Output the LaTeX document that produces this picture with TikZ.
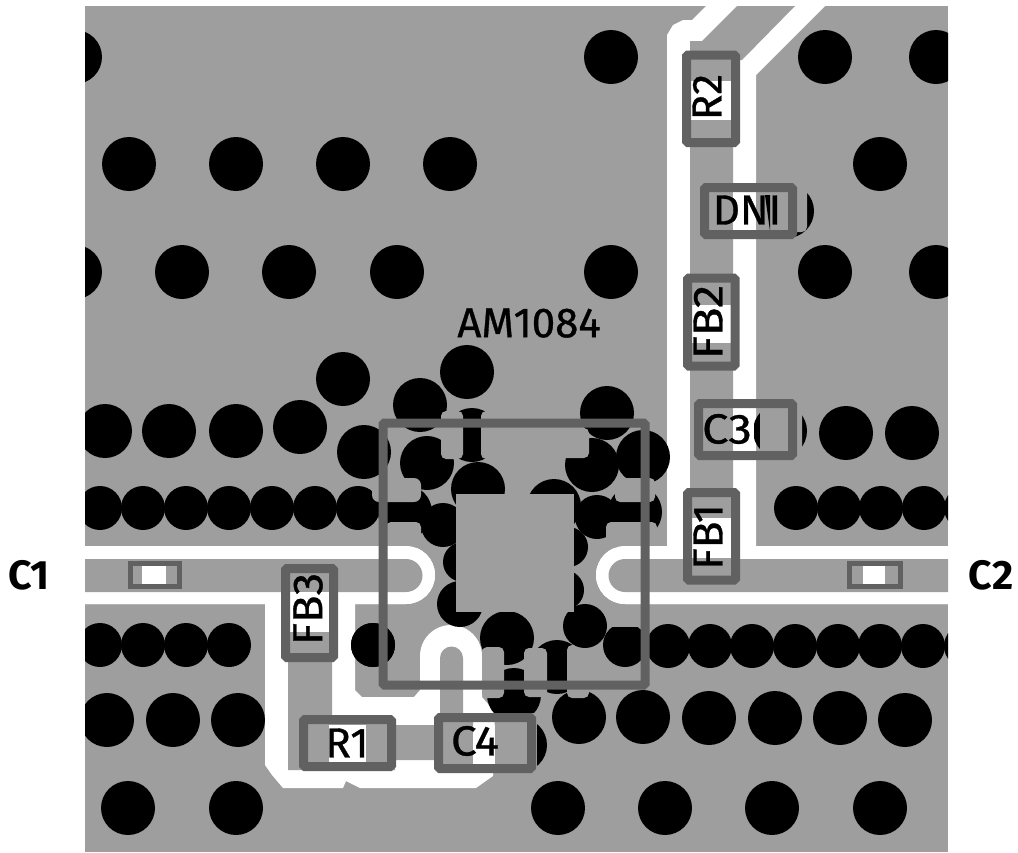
\documentclass[tikz,border=0pt]{standalone}
\usepackage{fontspec}
\setmainfont{Fira Sans}
\newfontfamily\lblreg{Fira Sans}[FakeBold=0.8]
\definecolor{pcb}{HTML}{9E9E9E}
\definecolor{frameC}{HTML}{616161}
\newcommand{\via}[3]{\fill[black] (#1,#2) circle (#3);}
\newcommand{\mask}[4]{\fill[pcb,rounded corners=5pt] (#1,#2) rectangle (#3,#4);}
\newcommand{\wgap}[4]{\fill[white] (#1,#2) rectangle (#3,#4);}
\newcommand{\pcbrect}[4]{\fill[pcb] (#1,#2) rectangle (#3,#4);}
\tikzset{
  compframe/.style={draw=frameC,line width=9pt,rounded corners=1.5pt},
  smallframe/.style={draw=frameC,line width=5pt},
  lbl/.style={inner sep=0pt,font=\lblreg\fontsize{42}{42}\selectfont,text=black},
  lblbold/.style={inner sep=0pt,font=\fontsize{41}{41}\selectfont\bfseries,text=black}
}
\begin{document}
\begin{tikzpicture}[x=1pt,y=-1pt]
\useasboundingbox (0,0) rectangle (1018,852);
\fill[white] (0,0) rectangle (1018,852);
\fill[pcb] (85,6) rectangle (948,852);
% clearance
\fill[white] (85,546) -- (406,546) arc[start angle=-90,end angle=90,radius=29] -- (85,604) -- cycle;
\fill[white] (948,546) -- (625,546) arc[start angle=-90,end angle=-270,radius=29] -- (948,604) -- cycle;
\fill[white] (667,548) -- (667,35) -- (673,25) -- (683,20) -- (692,20) -- (706,6) -- (825,6) -- (756,75) -- (756,548) -- cycle;
\fill[white] (265,600) -- (265,765) -- (272,775) -- (283,788) -- (343,788) -- (346,781) -- (352,784) -- (360,788) -- (476,788) -- (493,776) -- (495,712) -- (482,697) -- (482,656) arc[start angle=0,end angle=-180,radius=31] -- (420,690) -- (414,697) -- (362,697) -- (355,690) -- (355,600) -- cycle;
% vias, plain
\begin{scope}
\clip (85,6) rectangle (948,852);
\foreach \x/\y in {75/57,611/57,825/57,936/57,
  129/164,236/164,343/164,450/164,880/164,
  75/272,182/272,289/272,397/272,611/272,825/272,936/272,
  343/379,467/372,420/405,364/452,
  105/431,169/431,236/431,300/427,846/433,912/433,
  427/463,478/489,554/506,607/413,592/465,643/457,
  507/638,579/717,643/717,709/718,775/718,840/718,905/720,
  107/720,173/720,238/720,128/808,236/808,558/808,665/808,772/808,880/808,
  514/695,472/435,405/512,635/512,557/667,520/745,787/211,780/431}
  {\via{\x}{\y}{27}}
\foreach \x/\y in {100/508,143/508,186/508,229/508,272/508,315/508,358/508,
  796/508,839/508,881/508,924/508,966/508,
  100/645,143/645,186/645,229/645,373/645,
  625/645,668/646,710/646,752/646,795/646,838/646,880/646,923/646,966/646,
  443/525,597/517}
  {\via{\x}{\y}{22}}
\via{460}{604}{23}
\via{463}{562}{20}
\via{568}{547}{20}
\via{564}{590}{20}
\end{scope}
% thermal cut-outs
\mask{441}{411}{463}{459}
\mask{481}{411}{503}{459}
\fill[pcb,rounded corners=7pt] (372,478) rectangle (421,502);
\mask{386}{522}{421}{548}
\mask{615}{478}{655}{502}
\mask{606}{522}{657}{548}
\mask{555}{428}{589}{458}
\mask{482}{647}{504}{698}
\mask{524}{648}{547}{697}
\mask{567}{645}{589}{698}
\via{585}{626}{22}
\pcbrect{608}{616}{646}{627}
% IC pad
\pcbrect{456}{494}{574}{612}
% white redraw of the loops' edge over thermal relief
\fill[white] (85,546) -- (406,546) arc[start angle=-90,end angle=90,radius=29] -- (85,604) -- cycle;
\fill[white] (948,546) -- (625,546) arc[start angle=-90,end angle=-270,radius=29] -- (948,604) -- cycle;
\via{373}{645}{22}
% horizontal trace with loops
\fill[pcb] (85,559) -- (406,559) arc[start angle=-90,end angle=90,radius=16.5] -- (85,592) -- cycle;
\fill[pcb] (948,559) -- (625,559) arc[start angle=-90,end angle=-270,radius=16.5] -- (948,592) -- cycle;
% vertical trace
\fill[pcb] (690,559) -- (690,41) -- (702,41) -- (737,6) -- (795,6) -- (742,60) -- (733,60) -- (733,559) -- cycle;
% lower trace
\fill[pcb] (288,632) -- (332,632) -- (332,720) -- (395,720) -- (395,725) -- (435,725) -- (435,718) -- (440,718) -- (440,658) arc[start angle=180,end angle=360,radius=11.5] -- (463,718) -- (473,718) -- (473,770) -- (435,770) -- (435,760) -- (395,760) -- (395,770) -- (288,770) -- cycle;
% pads right of white gaps
\pcbrect{495}{713}{537}{773}
\mask{756}{178}{807}{232}
\fill[black] (765,195) -- (770,195) -- (770,231) -- cycle;
\mask{760}{398}{802}{462}
% white gaps inside components
\wgap{690}{81}{733}{120}
\wgap{733}{192}{756}{230}
\wgap{690}{305}{733}{343}
\wgap{733}{408}{754}{450}
\wgap{690}{518}{733}{558}
\wgap{288}{592}{332}{632}
\wgap{329}{725}{366}{762}
\wgap{473}{725}{495}{770}
\wgap{142}{566}{166}{584}
\wgap{863}{566}{885}{584}
% component frames
\draw[compframe] (383,423) rectangle (645,685);
\draw[compframe] (686.5,55) rectangle (735.5,142.5);
\draw[compframe] (704.5,187.5) rectangle (792.5,234.5);
\draw[compframe] (687.5,278) rectangle (735,366);
\draw[compframe] (698.5,403.5) rectangle (792.5,455.5);
\draw[compframe] (687.5,492.5) rectangle (735.5,580);
\draw[compframe] (285.5,568.5) rectangle (333.5,657.5);
\draw[compframe] (303.5,719.5) rectangle (391.5,766.5);
\draw[compframe] (438.5,717.5) rectangle (531.5,768.5);
\draw[smallframe] (130.5,563.5) rectangle (179.5,586.5);
\draw[smallframe] (849.5,563.5) rectangle (900.5,586.5);
% labels
\node[lbl] (ic) at (529,323) {AM1084};
\node[lbl,rotate=90] (r2) at (707,97) {R2};
\node[lbl] (dni) at (747,210) {DNI};
\node[lbl,rotate=90,xscale=1.12] (fb2) at (708,322) {FB2};
\node[lbl,xscale=1.12] (c3) at (727,429) {C3};
\node[lbl,rotate=90,xscale=1.05] (fb1) at (708,537) {FB1};
\node[lbl,rotate=90,xscale=1.08] (fb3) at (308,609) {FB3};
\node[lbl] (r1) at (347,743) {R1};
\node[lbl,xscale=1.1] (c4) at (475,741) {C4};
\node[lblbold] (c1) at (29,575) {C1};
\node[lblbold] (c2) at (991,575) {C2};
\end{tikzpicture}
\end{document}
